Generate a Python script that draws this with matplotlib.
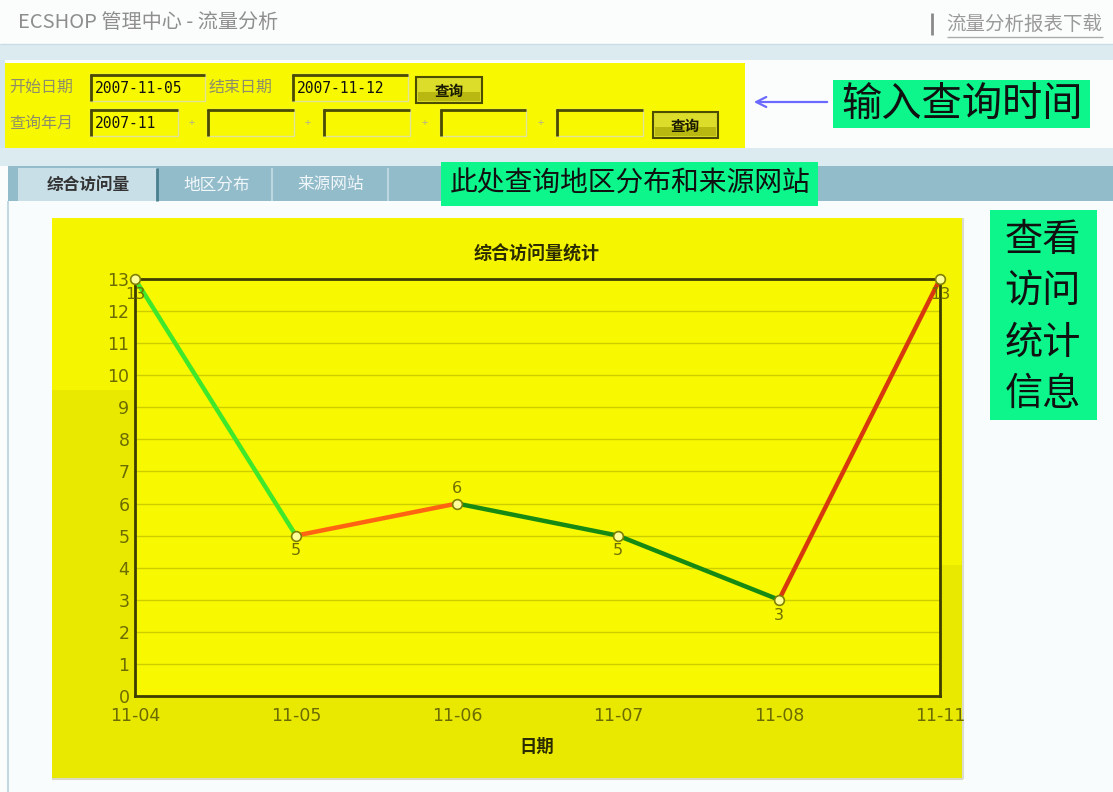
import matplotlib
matplotlib.use('Agg')
import matplotlib.pyplot as plt
from matplotlib.patches import Rectangle
import numpy as np

# ---------------- data ----------------
categories = ['11-04', '11-05', '11-06', '11-07', '11-08', '11-11']
visits = [13, 5, 6, 5, 3, 13]
y_ticks = list(range(0, 14))
seg_colors = ['#3fe82a', '#ff6412', '#168a12', '#168a12', '#d8380e']
label_side = [-1, -1, 1, -1, -1, -1]
chart_title = '综合访问量统计'
x_label = '日期'
page_title = 'ECSHOP 管理中心 - 流量分析'
download_text = '流量分析报表下载'
tabs = ['综合访问量', '地区分布', '来源网站']
note_time = '输入查询时间'
note_tabs = '此处查询地区分布和来源网站'
note_stats = ['查看', '访问', '统计', '信息']

plt.rcParams['font.family'] = ['Noto Sans CJK SC', 'DejaVu Sans']

W, H = 1113, 792
fig = plt.figure(figsize=(W / 100, H / 100), dpi=100)
fig.patch.set_facecolor('#fbfdfd')
bg = fig.add_axes([0, 0, 1, 1])
bg.set_xlim(0, W)
bg.set_ylim(H, 0)
bg.axis('off')


def rect(x0, y0, x1, y1, fc, ec='none', lw=0, z=1):
    bg.add_patch(Rectangle((x0, y0), x1 - x0, y1 - y0, facecolor=fc,
                           edgecolor=ec, linewidth=lw, zorder=z))


def hline(x0, x1, y, c, lw=1, z=2):
    bg.plot([x0, x1], [y, y], color=c, lw=lw, zorder=z, solid_capstyle='butt')


def vline(x, y0, y1, c, lw=1, z=2):
    bg.plot([x, x], [y0, y1], color=c, lw=lw, zorder=z, solid_capstyle='butt')


# header
bg.text(18, 23, page_title, fontsize=14.5, color='#8e8e8e', va='center', ha='left')
vline(932, 13, 35, '#8a8a8a', lw=2)
bg.text(946, 24, download_text, fontsize=14, color='#9a9a9a', va='center', ha='left')
hline(947, 1103, 37, '#aaaaaa', lw=1)

# bands
rect(0, 44, W, 60, '#dcebf0')
hline(0, W, 44, '#c8dde5')
rect(0, 60, 5, 166, '#d5e7ee')
rect(0, 148, W, 166, '#dcebf0')

# form box
rect(5, 63, 745, 148, '#f8f800')
lab_c = '#8e8e6a'
bg.text(9, 87, '开始日期', fontsize=11.5, color=lab_c, va='center')
bg.text(209, 87, '结束日期', fontsize=11.5, color=lab_c, va='center')
bg.text(9, 123, '查询年月', fontsize=11.5, color=lab_c, va='center')


def inbox(x0, x1, y0, y1, txt=''):
    rect(x0, y0, x1, y1, '#f8f800', ec='#e2e29a', lw=1, z=2)
    hline(x0, x1, y0 + 1, '#4a4a00', lw=2, z=3)
    vline(x0 + 1, y0, y1, '#4a4a00', lw=2, z=3)
    if txt:
        bg.text(x0 + 5, (y0 + y1) / 2 + 1, txt, fontsize=10.5, family='DejaVu Sans Mono',
                color='#111111', va='center', ha='left', zorder=4)


def button(x0, x1, y0, y1):
    rect(x0, y0, x1, y1, '#dcdc2a', ec='#4d4d00', lw=1.5, z=2)
    rect(x0 + 2, (y0 + y1) / 2 + 2, x1 - 2, y1 - 2, '#b8b810', z=2)
    bg.text((x0 + x1) / 2, (y0 + y1) / 2 + 1, '查询', fontsize=10.5, fontweight='bold',
            color='#1a1a00', ha='center', va='center', zorder=4)


inbox(90, 205, 74, 101, '2007-11-05')
inbox(292, 408, 74, 101, '2007-11-12')
button(416, 482, 77, 103)
inbox(90, 178, 109, 136, '2007-11')
for bx0, bx1 in [(207, 294), (323, 410), (440, 526), (556, 643)]:
    bg.text(bx0 - 15, 123, '+', fontsize=8, color='#b0b090', ha='center', va='center')
    inbox(bx0, bx1, 109, 136)
button(653, 718, 112, 138)

# arrow + green notes
bg.annotate('', xy=(751, 102), xytext=(830, 102),
            arrowprops=dict(arrowstyle='->', color='#6a6aff', lw=1.6, mutation_scale=18))
GREEN = '#0cf68c'
rect(833, 80, 1090, 128, GREEN, z=3)
bg.text(962, 104, note_time, fontsize=29, color='#101010', ha='center', va='center', zorder=4)

# tab bar
rect(8, 166, W, 201, '#93bccb')
rect(18, 168, 157, 201, '#c8dfe7')
vline(157, 168, 201, '#4a7f90', lw=2)
vline(272, 168, 201, '#bcd7e0', lw=1.5)
vline(388, 168, 201, '#bcd7e0', lw=1.5)
bg.text(88, 185, tabs[0], fontsize=12, fontweight='bold', color='#333333', ha='center', va='center')
bg.text(217, 185, tabs[1], fontsize=12, color='#f2f8fa', ha='center', va='center')
bg.text(331, 185, tabs[2], fontsize=12, color='#f2f8fa', ha='center', va='center')
rect(441, 162, 818, 206, GREEN, z=3)
bg.text(630, 184, note_tabs, fontsize=20, color='#101010', ha='center', va='center', zorder=4)

# content
rect(8, 201, W, H, '#f9fcfd')
vline(8, 201, H, '#c3d9e2', lw=1.5)
rect(990, 210, 1097, 420, GREEN, z=3)
for i, t in enumerate(note_stats):
    bg.text(1043, 240 + i * 51.5, t, fontsize=27.5, color='#101010', ha='center', va='center', zorder=4)

# chart panel
rect(52, 218, 962, 390, '#f5f500')
rect(52, 390, 962, 778, '#e9e900')
rect(940, 390, 962, 565, '#f5f500')
hline(52, 963, 779, '#d8d8c4', lw=1.5)
vline(963, 218, 779, '#dcdccc', lw=1.5)
bg.text(537, 254, chart_title, fontsize=13, fontweight='bold', color='#2b2b00',
        ha='center', va='center')
bg.text(537, 747, x_label, fontsize=12.5, fontweight='bold', color='#2b2b00',
        ha='center', va='center')

# ---------------- chart ----------------
ax = fig.add_axes([135 / W, 1 - 696 / H, 805 / W, 417 / H])
x = np.arange(len(categories))
ax.set_xlim(0, len(categories) - 1)
ax.set_ylim(0, 13)
ax.set_facecolor('#f8f800')
ax.set_yticks(y_ticks)
ax.set_xticks(x, categories)
ax.grid(axis='y', color='#cdcd00', lw=1)
ax.set_axisbelow(True)
for s in ax.spines.values():
    s.set_color('#3d3d00')
    s.set_linewidth(2)
ax.tick_params(length=0, colors='#6b6b00', labelsize=12.5)
ax.tick_params(axis='x', pad=8)
ax.tick_params(axis='y', pad=4)
for lbl in ax.get_xticklabels() + ax.get_yticklabels():
    lbl.set_fontfamily('DejaVu Sans')

for i in range(len(x) - 1):
    ax.plot(x[i:i + 2], visits[i:i + 2], color=seg_colors[i], lw=3.2,
            solid_capstyle='round', zorder=3, clip_on=False)
ax.plot(x, visits, 'o', ms=7, mfc='#ffff9a', mec='#808000', mew=1.2, zorder=4, clip_on=False)
for xi, v, side in zip(x, visits, label_side):
    ax.annotate(str(v), (xi, v), xytext=(0, 11 * side), textcoords='offset points',
                ha='center', va='center', color='#707000', fontsize=11.5,
                family='DejaVu Sans', zorder=5, annotation_clip=False)

fig.savefig('out.png', dpi=100, facecolor=fig.get_facecolor())
